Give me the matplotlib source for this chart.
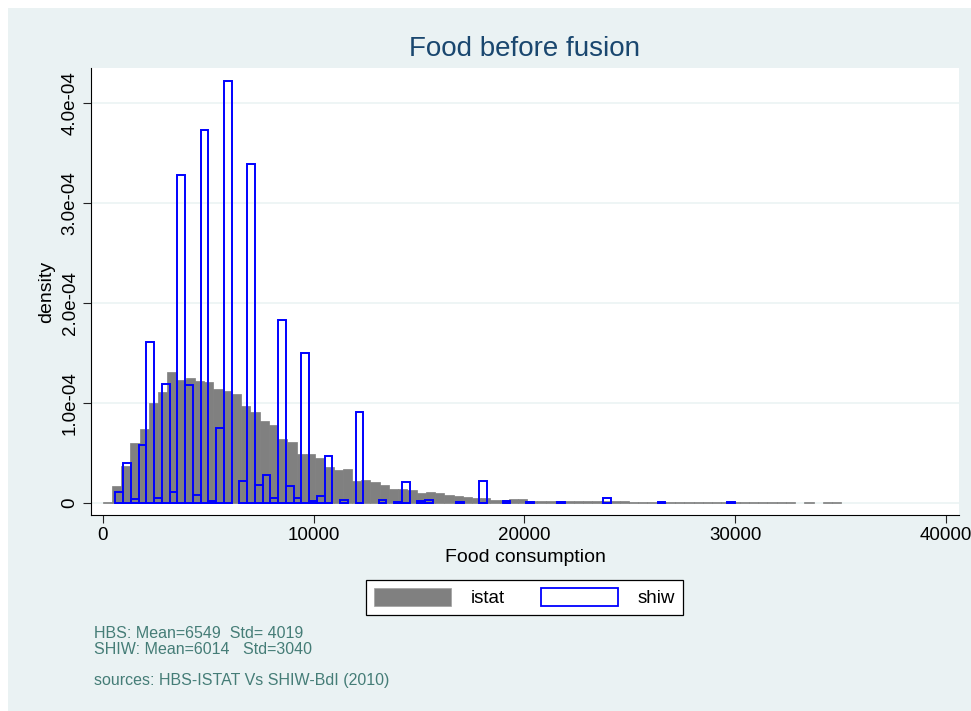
import numpy as np
import matplotlib
matplotlib.use('Agg')
import matplotlib.pyplot as plt
from matplotlib.patches import Rectangle, Patch

plt.rcParams['font.family'] = ['Liberation Sans', 'DejaVu Sans']

# ---------------- data ----------------
title = "Food before fusion"
xlabel = "Food consumption"
ylabel = "density"
series_names = ["istat", "shiw"]
note_lines = ["HBS: Mean=6549  Std= 4019", "SHIW: Mean=6014   Std=3040"]
source_line = "sources: HBS-ISTAT Vs SHIW-BdI (2010)"

x_ticks = [0, 10000, 20000, 30000, 40000]
x_ticklabels = ["0", "10000", "20000", "30000", "40000"]
y_ticks = [0, 1e-4, 2e-4, 3e-4, 4e-4]
y_ticklabels = ["0", "1.0e-04", "2.0e-04", "3.0e-04", "4.0e-04"]

density_unit = 1e-4

# istat (HBS) histogram: 80 bins
istat_bin_start = 0
istat_bin_width = 438
istat_density = [
    0.01, 0.17, 0.37, 0.60, 0.74, 1.00, 1.11, 1.31, 1.23, 1.25,
    1.22, 1.21, 1.14, 1.12, 1.09, 0.97, 0.91, 0.82, 0.78, 0.64,
    0.61, 0.49, 0.49, 0.45, 0.36, 0.33, 0.34, 0.22, 0.23, 0.21,
    0.18, 0.14, 0.14, 0.13, 0.10, 0.11, 0.10, 0.08, 0.07, 0.06,
    0.05, 0.05, 0.03, 0.03, 0.04, 0.04, 0.02, 0.02, 0.015, 0.015,
    0.015, 0.015, 0.013, 0.013, 0.013, 0.013, 0.013, 0.012, 0.012, 0.012,
    0.012, 0.011, 0.011, 0.011, 0.011, 0.011, 0.01, 0.01, 0.01, 0.01,
    0.01, 0.01, 0.01, 0.01, 0.01, 0.0, 0.01, 0.0, 0.01, 0.01,
]

# shiw (SHIW) histogram: 80 bins
shiw_bin_start = 600
shiw_bin_width = 367.5
shiw_density = [
    0.11, 0.40, 0.04, 0.58, 1.61, 0.05, 1.19, 0.11, 3.28, 1.18,
    0.08, 3.73, 0.015, 0.75, 4.22, 0.0, 0.22, 3.39, 0.18, 0.28,
    0.05, 1.83, 0.17, 0.045, 1.50, 0.015, 0.07, 0.47, 0.0, 0.03,
    0.0, 0.91, 0.0, 0.0, 0.03, 0.0, 0.005, 0.21, 0.0, 0.015,
    0.025, 0.0, 0.0, 0.0, 0.008, 0.0, 0.0, 0.22, 0.0, 0.0,
    0.015, 0.0, 0.0, 0.01, 0.0, 0.0, 0.0, 0.01, 0.0, 0.0,
    0.0, 0.0, 0.0, 0.047, 0.0, 0.0, 0.0, 0.0, 0.0, 0.0,
    0.008, 0.0, 0.0, 0.0, 0.0, 0.0, 0.0, 0.0, 0.0, 0.008,
]

# ---------------- styling ----------------
W, H = 971, 711
BG = '#EAF2F3'
GRAY = '#808080'
BLUE = '#0000FF'
TITLE_C = '#1A476F'
NOTE_C = '#457D77'

fig = plt.figure(figsize=(W / 100, H / 100), dpi=100)
fig.patch.set_facecolor('white')
fig.patches.append(Rectangle((8 / W, 0), 1 - 8 / W, 1 - 8 / H, transform=fig.transFigure,
                             facecolor=BG, edgecolor='none', zorder=-10))

ax = fig.add_axes([91 / W, 1 - 515 / H, (958.7 - 91) / W, (515 - 68) / H])
ax.set_facecolor('white')
ax.set_xlim(-555, 40607)
ax.set_ylim(-0.1232e-4, 4.3535e-4)

# gridlines
ax.set_axisbelow(True)
ax.yaxis.grid(True, color=BG, linewidth=1.1, zorder=0)
ax.xaxis.grid(False)

# istat bars
istat_h = np.array(istat_density) * density_unit
istat_edges = istat_bin_start + istat_bin_width * np.arange(len(istat_h))
mask_i = istat_h > 0
ax.bar(istat_edges[mask_i], istat_h[mask_i], width=istat_bin_width, align='edge',
       color=GRAY, edgecolor=GRAY, linewidth=0.5, zorder=2)

# shiw bars
shiw_h = np.array(shiw_density) * density_unit
shiw_edges = shiw_bin_start + shiw_bin_width * np.arange(len(shiw_h))
mask_s = shiw_h > 0
ax.bar(shiw_edges[mask_s], shiw_h[mask_s], width=shiw_bin_width, align='edge',
       facecolor='none', edgecolor=BLUE, linewidth=1.4, zorder=3)

# axes
for s in ['top', 'right']:
    ax.spines[s].set_visible(False)
for s in ['left', 'bottom']:
    ax.spines[s].set_color('black')
    ax.spines[s].set_linewidth(0.8)

ax.set_xticks(x_ticks)
ax.set_xticklabels(x_ticklabels)
ax.set_yticks(y_ticks)
ax.set_yticklabels(y_ticklabels, rotation=90, va='center')
ax.tick_params(axis='both', direction='out', length=5.5, width=0.8, color='#222222',
               labelsize=13.5, labelcolor='black', pad=3.5)

# texts
fig.text(524.5 / W, 1 - 49 / H, title, ha='center', va='center', fontsize=20, color=TITLE_C)
fig.text(525 / W, 1 - 557 / H, xlabel, ha='center', va='center', fontsize=14, color='black')
fig.text(47 / W, 1 - 291.5 / H, ylabel, ha='center', va='center', rotation=90, fontsize=14,
         color='black')

fig.text(94 / W, 1 - 633 / H, note_lines[0], ha='left', va='center', fontsize=11.5, color=NOTE_C)
fig.text(94 / W, 1 - 650 / H, note_lines[1], ha='left', va='center', fontsize=11.5, color=NOTE_C)
fig.text(94 / W, 1 - 681 / H, source_line, ha='left', va='center', fontsize=11.5, color=NOTE_C)

# legend
handles = [Patch(facecolor=GRAY, edgecolor='#A0A0A0', linewidth=0.5),
           Patch(facecolor='white', edgecolor=BLUE, linewidth=1.3)]
leg = fig.legend(handles, series_names, loc='center', bbox_to_anchor=(524.5 / W, 1 - 597.6 / H),
                 ncol=2, fontsize=13.5, handlelength=4.1, handleheight=1.15, handletextpad=1.02,
                 columnspacing=1.95, borderpad=0.43, frameon=True, fancybox=False,
                 edgecolor='black', framealpha=1, facecolor='white')
leg.get_frame().set_linewidth(0.9)

fig.savefig('out.png', dpi=100, facecolor=fig.get_facecolor())
